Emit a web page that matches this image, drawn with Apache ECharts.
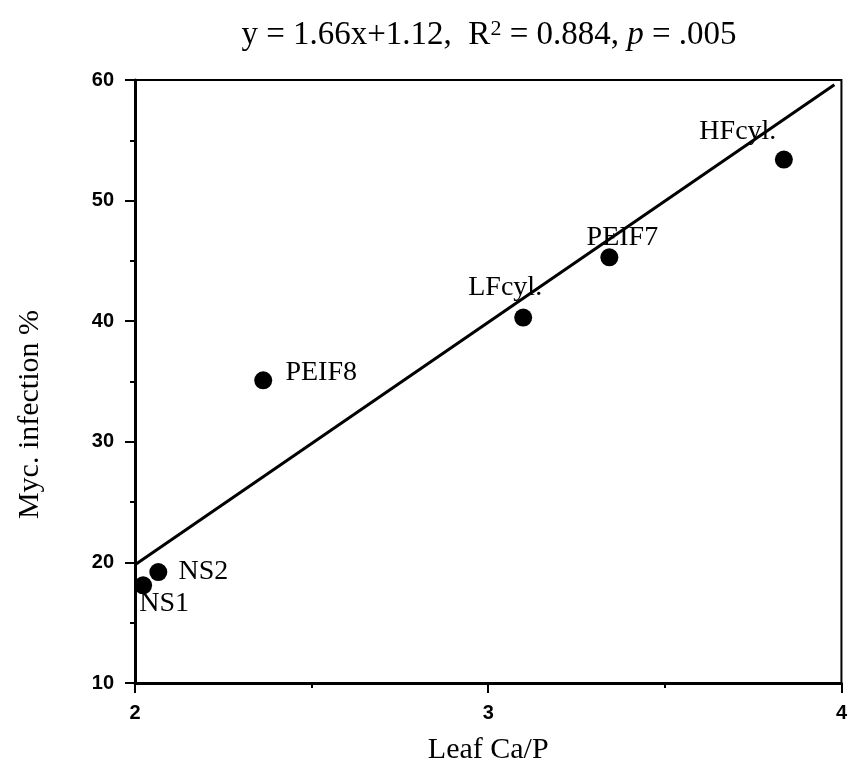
<!DOCTYPE html>
<html>
<head>
<meta charset="utf-8">
<script src="https://cdn.jsdelivr.net/npm/echarts@6/dist/echarts.min.js"></script>
<style>
  html, body { margin: 0; padding: 0; background: #fff; }
  #chart { width: 850px; height: 773px; }
</style>
</head>
<body>
<div id="chart"></div>
<script>
// Sites: leaf Ca/P ratio vs. mycorrhizal infection (%)
const siteNames = ['NS1', 'NS2', 'PEIF8', 'LFcyl.', 'PEIF7', 'HFcyl.'];
const leafCaP = [2.023, 2.066, 2.363, 3.099, 3.343, 3.837];
const mycInfection = [18.1, 19.2, 35.1, 40.3, 45.3, 53.4];

// Fitted regression line, drawn between its two end points
const fitX = [2.0, 3.98];
const fitY = [19.8, 59.6];

const xTicks = [2, 3, 4];
const yTicks = [10, 20, 30, 40, 50, 60];

// label placement relative to each marker centre (px)
const labelOffsets = {
  'NS1': [21, 18],
  'NS2': [45, 0],
  'PEIF8': [58, -8],
  'LFcyl.': [-18, -30],
  'PEIF7': [13, -20],
  'HFcyl.': [-46, -28]
};

const serif = '"Liberation Serif", "DejaVu Serif", serif';
const sans = '"Liberation Sans", Arial, sans-serif';

const scatterData = siteNames.map((n, i) => ({
  name: n,
  value: [leafCaP[i], mycInfection[i]],
  label: { offset: labelOffsets[n] }
}));

const chart = echarts.init(document.getElementById('chart'), null, { renderer: 'canvas' });

const axisCommon = {
  type: 'value',
  axisLine: { show: true, lineStyle: { color: '#000', width: 3 } },
  axisTick: { show: true, inside: false, length: 10, lineStyle: { color: '#000', width: 2 } },
  minorTick: { show: true, splitNumber: 2, length: 5, lineStyle: { color: '#000', width: 2 } },
  splitLine: { show: false },
  minorSplitLine: { show: false },
  axisLabel: { color: '#000', fontFamily: sans, fontWeight: 'bold', fontSize: 20 }
};

chart.setOption({
  backgroundColor: '#fff',
  animation: false,
  title: {
    text: 'y = 1.66x+1.12,  R{sup|2} = 0.884, {it|p} = .005',
    left: 484,
    textAlign: 'center',
    top: 13,
    textStyle: {
      fontFamily: serif, fontSize: 33, fontWeight: 'normal', color: '#000',
      rich: {
        sup: { fontFamily: serif, fontSize: 22, color: '#000', verticalAlign: 'top', padding: [0, 0, 12, 0] },
        it: { fontFamily: serif, fontSize: 33, fontStyle: 'italic', color: '#000' }
      }
    }
  },
  grid: {
    left: 135, right: 6, top: 80, bottom: 90,
    show: true, borderColor: '#000', borderWidth: 2, backgroundColor: 'transparent'
  },
  xAxis: Object.assign({}, axisCommon, {
    min: xTicks[0], max: xTicks[xTicks.length - 1], interval: 1,
    axisLabel: Object.assign({}, axisCommon.axisLabel, { margin: 20 }),
    name: 'Leaf Ca/P',
    nameLocation: 'middle',
    nameGap: 52,
    nameTextStyle: { fontFamily: serif, fontSize: 30, color: '#000' }
  }),
  yAxis: Object.assign({}, axisCommon, {
    min: yTicks[0], max: yTicks[yTicks.length - 1], interval: 10,
    axisLabel: Object.assign({}, axisCommon.axisLabel, { margin: 21 })
  }),
  graphic: [{
    type: 'text',
    left: 15,
    top: 310,
    rotation: Math.PI / 2,
    originX: 0, originY: 0,
    style: {
      text: 'Myc. infection %',
      fontFamily: serif, fontSize: 30, fill: '#000'
    }
  }],
  series: [
    {
      type: 'line',
      data: fitX.map((x, i) => [x, fitY[i]]),
      showSymbol: false,
      symbol: 'none',
      lineStyle: { color: '#000', width: 3, opacity: 1 },
      z: 2,
      silent: true
    },
    {
      type: 'scatter',
      data: scatterData,
      symbol: 'circle',
      symbolSize: 18,
      itemStyle: { color: '#000', opacity: 1 },
      label: {
        show: true,
        position: 'inside',
        formatter: p => p.name,
        fontFamily: serif, fontSize: 28, color: '#000', opacity: 1
      },
      z: 3
    }
  ]
});
</script>
</body>
</html>
